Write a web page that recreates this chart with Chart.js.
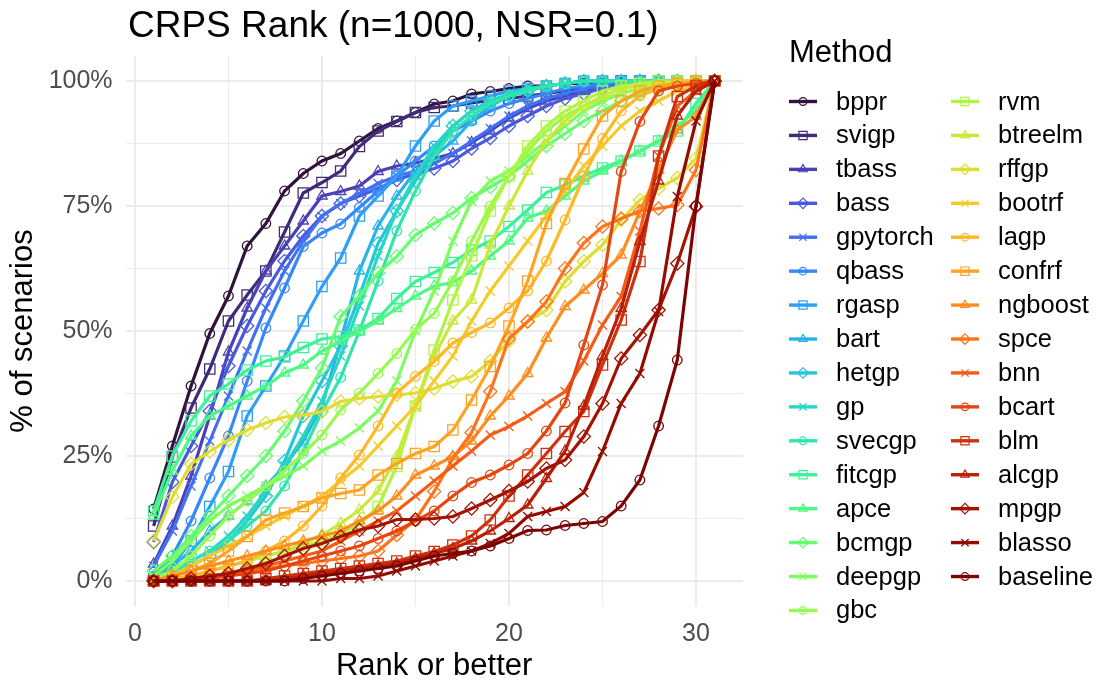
<!DOCTYPE html>
<html>
<head>
<meta charset="utf-8">
<script src="https://cdn.jsdelivr.net/npm/chart.js@4.4.1/dist/chart.umd.min.js"></script>
<style>
  html, body { margin: 0; padding: 0; background: #ffffff; }
  canvas { display: block; }
</style>
</head>
<body>
<canvas id="crps-chart" width="1099" height="682"></canvas>
<script>
  // ranks on the x axis
  const ranks = [1, 2, 3, 4, 5, 6, 7, 8, 9, 10, 11, 12, 13, 14, 15, 16, 17, 18, 19, 20, 21, 22, 23, 24, 25, 26, 27, 28, 29, 30, 31];

  const methods = ["bppr", "svigp", "tbass", "bass", "gpytorch", "qbass", "rgasp", "bart", "hetgp", "gp",
    "svecgp", "fitcgp", "apce", "bcmgp", "deepgp", "gbc", "rvm", "btreelm", "rffgp", "bootrf",
    "lagp", "confrf", "ngboost", "spce", "bnn", "bcart", "blm", "alcgp", "mpgp", "blasso", "baseline"];

  // % of scenarios with rank <= x, one array per method
  const bppr     = [14.4, 27, 39, 49.5, 57, 67, 71.5, 78, 81.5, 84, 85.5, 88, 90.5, 92, 93.7, 95.4, 96, 97.4, 97.9, 98.5, 99, 99, 99.5, 99.5, 100, 100, 100, 100, 100, 100, 100];
  const svigp    = [11, 24.8, 34.6, 42.4, 52, 57.2, 62, 69.8, 77.6, 79.7, 82, 86.9, 90, 91.9, 93.7, 94.7, 95, 95.6, 96.1, 96.5, 97, 97.5, 98, 98.5, 99.5, 100, 100, 100, 100, 100, 100];
  const tbass    = [3.4, 11, 21, 33, 45.8, 54.6, 62, 67, 72, 77, 77.9, 79, 81.9, 83, 83.6, 84.5, 85.5, 87.7, 90, 92.6, 94.5, 96, 97, 98, 99, 99.5, 100, 100, 100, 100, 100];
  const bass     = [7.8, 19.8, 27, 34, 43, 51, 58, 64, 69, 73, 75.5, 77, 78.5, 80.2, 81.5, 82.5, 84, 86.5, 88.6, 91, 93, 95, 96.5, 97.5, 98.5, 99.5, 100, 100, 100, 100, 100];
  const gpytorch = [3, 10, 19, 28, 37, 46, 54.6, 62, 68, 72.9, 75.5, 77.5, 79.5, 81, 82, 83.5, 85.5, 88, 90.5, 93, 95, 96.5, 97.5, 98.5, 99, 99.5, 100, 100, 100, 100, 100];
  const qbass    = [1, 5, 12, 20.6, 29, 40, 50.6, 58.6, 66.9, 69.6, 71.4, 74.7, 78, 81, 84, 87, 90, 92, 94, 95.5, 96.5, 97.5, 98.5, 99, 99.5, 100, 100, 100, 100, 100, 100];
  const rgasp    = [0.5, 3, 8, 14.9, 21.9, 33, 39, 45, 52, 58.9, 64.6, 73, 77, 81, 87, 92, 95, 96, 97, 98, 98.5, 99, 99.5, 100, 100, 100, 100, 100, 100, 100, 100];
  const bart     = [1, 3, 6, 10, 13, 16, 19, 23, 28, 35, 48, 62, 71, 77, 82, 85, 88, 92, 95, 97, 98, 99, 99.5, 100, 100, 100, 100, 100, 100, 100, 100];
  const hetgp    = [0.5, 1, 3, 5, 8, 12, 17, 24, 33, 40, 47, 57, 67.5, 74, 80, 86, 91, 94, 96, 97, 98, 99, 99.5, 100, 100, 100, 100, 100, 100, 100, 100];
  const gp       = [1, 2, 4, 6, 9, 13, 18, 23, 29, 36, 45, 55, 65, 74, 81, 87, 91, 94, 96, 97.5, 98.5, 99, 99.5, 100, 100, 100, 100, 100, 100, 100, 100];
  const svecgp   = [0.5, 1.5, 4, 6, 8, 11, 14, 19, 26, 33.9, 40.7, 50, 60, 70, 78, 85, 90, 93, 95.5, 97, 98, 99, 99.5, 100, 100, 100, 100, 100, 100, 100, 100];
  const fitcgp   = [14, 25, 32, 37, 39.4, 42.2, 44, 44.8, 46.7, 48.4, 48.9, 50.2, 52.5, 56.5, 59.9, 61.7, 63.7, 66.2, 68, 70.9, 74.2, 77.7, 79.2, 81, 82.6, 84, 86, 88, 90, 95.5, 100];
  const apce     = [13, 22, 29, 33, 35, 37, 39, 41.6, 43.2, 46, 48, 50, 52, 54.5, 57, 59, 59.7, 62, 65, 68, 72.6, 74, 77, 80, 82, 84, 86, 88, 91, 94, 100];
  const bcmgp    = [2, 5, 9, 13, 17, 21, 25, 30, 36, 42.6, 52.9, 57, 61.6, 64.9, 69.2, 71.5, 73.6, 76.6, 78.8, 81, 84, 87, 89.5, 92, 94, 96, 97.5, 98.5, 99.5, 100, 100];
  const deepgp   = [1, 4, 8, 12, 15, 17, 19, 21, 23, 26, 28, 30.6, 34, 40, 50, 58, 68, 76, 80, 82, 85, 88, 91, 94, 96, 97.5, 98.5, 99.5, 100, 100, 100];
  const gbc      = [0.5, 2, 5, 9, 13, 16, 19, 22, 25.5, 29.2, 34.2, 37.6, 41.5, 45.5, 50.3, 53.5, 60, 68, 75, 81, 86, 90, 93, 95, 96.5, 97.5, 98.5, 99, 99.5, 100, 100];
  const rvm      = [0, 0.5, 1, 2, 3, 4, 5, 6, 7, 8, 9.5, 11.2, 14.9, 22.9, 35, 46.2, 56.2, 65, 74, 81, 87, 91, 94, 96, 98, 99, 99.5, 100, 100, 100, 100];
  const btreelm  = [0, 0.5, 1, 2, 3, 4, 5, 6, 7.5, 9.2, 11.5, 14.2, 18, 25, 35, 45, 52, 56.2, 67.2, 75, 82, 88, 92, 95, 97, 98.5, 99, 99.5, 100, 100, 100];
  const rffgp    = [8, 16.8, 23.4, 25.9, 28.2, 30.2, 31.6, 32.8, 33.2, 33.9, 35.9, 36.5, 36.9, 37.2, 37.6, 38.5, 39.9, 40.9, 44, 48, 51.9, 54.2, 59.9, 63.9, 67.2, 72.2, 76.2, 78.5, 80.6, 84.5, 100];
  const bootrf   = [0, 1, 3, 5, 7, 9, 11, 13, 15, 17, 20, 23, 27, 31, 35, 40, 45, 52, 58, 63, 68, 73, 78, 83, 87, 91, 94, 96, 98, 99, 100];
  const lagp     = [0, 0.5, 1, 2, 3, 4, 6, 8, 11, 15, 20.6, 25.2, 31, 37.6, 40.9, 43.9, 47.6, 49.7, 51.6, 54.6, 58, 64, 72.2, 80.9, 88.5, 94, 97, 98.5, 99.5, 100, 100];
  const confrf   = [0, 1, 2, 3.5, 6, 8.9, 12.2, 13.6, 14.9, 16.6, 17.5, 18.2, 21.2, 23.5, 25.5, 26.9, 30.2, 36.2, 42.9, 51, 60, 71.5, 79.5, 86.4, 93, 96, 98, 99, 99.5, 100, 100];
  const ngboost  = [0, 1, 2, 3, 4, 5, 6, 7, 8, 9, 10, 12, 14, 17, 21.2, 23, 24.9, 28, 33, 37, 41.5, 48.6, 54.9, 58.2, 61.5, 65.2, 73.9, 82.2, 90.2, 92.9, 100];
  const spce     = [0, 0, 0.5, 1, 1.5, 2, 2.5, 3, 3.5, 4, 4.5, 5, 6, 9.2, 12.2, 17.9, 24.5, 29.7, 37.9, 48.5, 51.9, 55.9, 62.5, 67.6, 70.9, 72.5, 74, 74.5, 75.2, 82.2, 100];
  const bnn      = [0, 0, 0.5, 1, 1.5, 2, 3, 4, 5, 6, 8, 10, 12, 14, 17, 20, 23, 26, 29.2, 30.9, 33, 35.5, 37.9, 44, 51.2, 56.9, 70, 85, 95, 98, 100];
  const bcart    = [0, 0, 0, 0.5, 1, 1.5, 2, 3, 4, 5, 6, 7, 8.5, 10, 12, 14, 17, 19.7, 21.2, 23.2, 25.5, 30, 35.6, 47.2, 59.2, 81.9, 91.9, 98, 99, 99.5, 100];
  const blm      = [0, 0, 0, 0, 0, 0, 0.5, 1, 1.5, 2, 2.5, 3, 3.5, 4, 5, 5.9, 7.2, 9, 12.2, 17, 21.2, 25.5, 29.9, 33.9, 43.2, 52.2, 63.9, 85, 96.9, 99, 100];
  const alcgp    = [0, 0, 0, 0, 0, 0, 0, 0.5, 1, 1.5, 2, 2.5, 3, 3.5, 4.5, 5.5, 6.5, 8, 10, 12.5, 15.2, 20.5, 26, 35, 45, 54.5, 67.9, 80, 93, 98, 100];
  const mpgp     = [0, 0, 0.5, 1, 1.5, 2.5, 3.5, 5, 6.5, 7.5, 8.9, 10.2, 11, 12.3, 12.3, 12.5, 12.9, 14.5, 16.2, 18, 19.9, 22.5, 24.2, 28.9, 35.5, 44.5, 49.2, 54.2, 63.5, 74.9, 100];
  const blasso   = [0, 0, 0, 0, 0, 0, 0, 0, 0, 0, 0.5, 0.5, 1, 2, 3, 4, 5, 6, 7.5, 9.5, 12.9, 13.9, 14.9, 17.7, 25.9, 35.5, 41.5, 53.9, 76.9, 92, 100];
  const baseline = [0, 0, 0, 0, 0, 0, 0, 0, 0.5, 1, 1.5, 2, 2.5, 3, 4, 5, 5.5, 6, 7, 8.5, 10.1, 10.2, 11.1, 11.5, 11.9, 15, 20.2, 31, 44.2, 75, 100];

  const seriesValues = [bppr, svigp, tbass, bass, gpytorch, qbass, rgasp, bart, hetgp, gp,
    svecgp, fitcgp, apce, bcmgp, deepgp, gbc, rvm, btreelm, rffgp, bootrf,
    lagp, confrf, ngboost, spce, bnn, bcart, blm, alcgp, mpgp, blasso, baseline];

  const xTicks = [0, 5, 10, 15, 20, 25, 30];
  const yTicks = [0, 12.5, 25, 37.5, 50, 62.5, 75, 87.5, 100];

  const FONT = "'Liberation Sans', Arial, Helvetica, sans-serif";

  // turbo palette (polynomial approximation)
  function turbo(t) {
    const r = 0.13572138 + t * (4.61539260 + t * (-42.66032258 + t * (132.13108234 + t * (-152.94239396 + t * 59.28637943))));
    const g = 0.09140261 + t * (2.19418839 + t * (4.84296658 + t * (-14.18503333 + t * (4.27729857 + t * 2.82956604))));
    const b = 0.10667330 + t * (12.64194608 + t * (-60.58204836 + t * (110.36276771 + t * (-89.90310912 + t * 27.34824973))));
    const c = v => Math.round(Math.max(0, Math.min(1, v)) * 255);
    return `rgb(${c(r)},${c(g)},${c(b)})`;
  }

  const shapes = ["circle", "rect", "triangle", "rectRot", "crossRot"];
  const shapeRadius = { circle: 4.8, rect: 7.3, triangle: 6, rectRot: 6.6, crossRot: 6.4 };

  const colors = methods.map((m, i) => {
    if (i === 0) return "#30123B";
    if (i === methods.length - 1) return "#7A0403";
    return turbo(i / (methods.length - 1));
  });

  const datasets = methods.map((m, i) => {
    const shape = shapes[i % 5];
    return {
      label: m,
      data: ranks.map((r, k) => ({ x: r, y: seriesValues[i][k] })),
      borderColor: colors[i],
      backgroundColor: colors[i],
      borderWidth: 3.2,
      pointStyle: shape,
      pointRadius: shapeRadius[shape],
      pointBorderWidth: 1.3,
      pointBorderColor: colors[i],
      pointBackgroundColor: "rgba(0,0,0,0)",
      tension: 0,
      fill: false,
      order: methods.length - 1 - i
    };
  });

  // own little marker painter for the legend keys
  function drawMarker(ctx, shape, x, y, r) {
    ctx.beginPath();
    if (shape === "circle") {
      ctx.arc(x, y, r, 0, Math.PI * 2);
    } else if (shape === "rect") {
      const s = r * Math.SQRT1_2;
      ctx.rect(x - s, y - s, 2 * s, 2 * s);
    } else if (shape === "triangle") {
      ctx.moveTo(x, y - r);
      ctx.lineTo(x + r * Math.sin(Math.PI * 2 / 3), y + r * 0.5);
      ctx.lineTo(x - r * Math.sin(Math.PI * 2 / 3), y + r * 0.5);
      ctx.closePath();
    } else if (shape === "rectRot") {
      ctx.moveTo(x - r, y); ctx.lineTo(x, y - r); ctx.lineTo(x + r, y); ctx.lineTo(x, y + r);
      ctx.closePath();
    } else {
      const s = r * Math.SQRT1_2;
      ctx.moveTo(x - s, y - s); ctx.lineTo(x + s, y + s);
      ctx.moveTo(x - s, y + s); ctx.lineTo(x + s, y - s);
    }
    ctx.stroke();
  }

  const decorations = {
    id: "decorations",
    afterDraw(chart) {
      const ctx = chart.ctx;
      ctx.save();
      // title
      ctx.fillStyle = "#000000";
      ctx.font = `37px ${FONT}`;
      ctx.textAlign = "left";
      ctx.textBaseline = "alphabetic";
      ctx.fillText("CRPS Rank (n=1000, NSR=0.1)", 128, 37);

      // legend
      ctx.font = `31px ${FONT}`;
      ctx.fillText("Method", 789, 62);
      ctx.font = `25.5px ${FONT}`;
      ctx.textBaseline = "middle";
      const rowH = 33.93;
      methods.forEach((m, i) => {
        const col = i < 16 ? 0 : 1;
        const row = col === 0 ? i : i - 16;
        const y = 101.5 + row * rowH;
        const x0 = col === 0 ? 789 : 951;
        const shape = shapes[i % 5];
        ctx.strokeStyle = colors[i];
        ctx.lineWidth = 3.4;
        ctx.beginPath();
        ctx.moveTo(x0, y);
        ctx.lineTo(x0 + 28, y);
        ctx.stroke();
        ctx.lineWidth = 1.2;
        drawMarker(ctx, shape, x0 + 14, y, shapeRadius[shape] * 0.8);
        ctx.fillStyle = "#000000";
        ctx.fillText(m, col === 0 ? 836 : 998, y + 1);
      });
      ctx.restore();
    }
  };

  const chart = new Chart(document.getElementById("crps-chart"), {
    type: "line",
    data: { datasets },
    plugins: [decorations],
    options: {
      responsive: false,
      animation: false,
      layout: { padding: { left: 0, right: 356.25, top: 56, bottom: 0 } },
      plugins: {
        legend: { display: false },
        tooltip: { enabled: false },
        title: { display: false }
      },
      scales: {
        x: {
          type: "linear",
          min: -0.5,
          max: 32.5,
          afterBuildTicks: s => { s.ticks = xTicks.map(v => ({ value: v })); },
          afterFit: s => { s.height = 76; },
          ticks: {
            callback: v => (v % 10 === 0 ? String(v) : ""),
            color: "#4D4D4D",
            font: { family: FONT, size: 25 },
            padding: 13.5,
            maxRotation: 0,
            autoSkip: false
          },
          grid: {
            color: "#EBEBEB",
            lineWidth: c => (c.tick && c.tick.value % 10 === 0 ? 2 : 1),
            drawTicks: false
          },
          border: { display: false },
          title: {
            display: true,
            text: "Rank or better",
            color: "#000000",
            font: { family: FONT, size: 31 },
            padding: { top: 0, bottom: -3 }
          }
        },
        y: {
          type: "linear",
          min: -5,
          max: 105,
          afterBuildTicks: s => { s.ticks = yTicks.map(v => ({ value: v })); },
          afterFit: s => { s.width = 125.6; },
          ticks: {
            callback: v => (v % 25 === 0 ? v + "%" : ""),
            color: "#4D4D4D",
            font: { family: FONT, size: 25 },
            padding: 13,
            autoSkip: false
          },
          grid: {
            color: "#EBEBEB",
            lineWidth: c => (c.tick && c.tick.value % 25 === 0 ? 2 : 1),
            drawTicks: false
          },
          border: { display: false },
          title: {
            display: true,
            text: "% of scenarios",
            color: "#000000",
            font: { family: FONT, size: 31 },
            padding: { top: 5, bottom: 0 }
          }
        }
      }
    }
  });
</script>
</body>
</html>
